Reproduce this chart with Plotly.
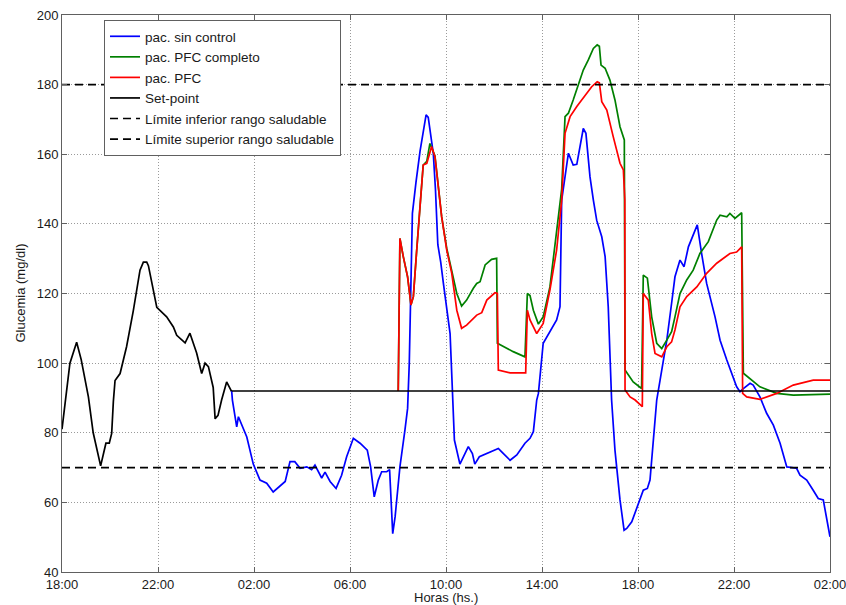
import plotly.graph_objects as go

# Time axis: hours elapsed since 18:00 of the first day
tick_hours = [0, 4, 8, 12, 16, 20, 24, 28, 32]
tick_labels = ["18:00", "22:00", "02:00", "06:00", "10:00", "14:00", "18:00", "22:00", "02:00"]

# Glucose history before control starts
hist_hours = [0, 0.33, 0.61, 0.8, 1.1, 1.3, 1.61, 1.72, 1.83, 1.97, 2.07, 2.14, 2.21, 2.42, 2.69,
              2.97, 3.25, 3.39, 3.53, 3.6, 3.8, 3.95, 4.36, 4.64, 4.78, 5.13, 5.33, 5.61, 5.82,
              5.96, 6.1, 6.3, 6.38, 6.5, 6.65, 6.86, 7.07]
hist_gluc = [81, 100, 106, 101, 90.3, 80, 70.5, 74, 77, 77, 79.8, 89, 95, 97, 104.7,
             115, 126.7, 129, 129, 128, 121, 116, 113.3, 110.4, 108, 105.8, 108.6, 102.9, 97,
             100, 99, 93, 84, 85, 89.4, 94.6, 91.8]

# Uncontrolled patient
blue_hours = [7.07, 7.1, 7.28, 7.35, 7.7, 7.97, 8.25, 8.53, 8.8, 9.05, 9.3, 9.5, 9.7, 9.92,
              10.2, 10.4, 10.54, 10.82, 10.96, 11.17, 11.42, 11.65, 11.86, 12.14, 12.42, 12.72,
              12.86, 13.01, 13.18, 13.32, 13.53, 13.65, 13.78, 13.88, 14.08, 14.29, 14.4, 14.47,
              14.53, 14.6, 14.75, 14.92, 15.17, 15.26, 15.47, 15.56, 15.66, 15.78, 15.89, 16.03,
              16.17, 16.25, 16.3, 16.35, 16.58, 16.93, 17.1, 17.2, 17.39, 17.7, 18.18, 18.32,
              18.67, 18.95, 19.29, 19.5, 19.64, 19.78, 19.85, 20.05, 20.61, 20.75, 20.82, 21.1,
              21.3, 21.45, 21.72, 21.83, 22.0, 22.14, 22.28, 22.49, 22.63, 22.76, 22.9, 23.04,
              23.25, 23.42, 23.53, 23.74, 24.01, 24.22, 24.39, 24.5, 24.64, 24.78, 24.92, 25.2,
              25.4, 25.54, 25.75, 25.92, 26.1, 26.47, 26.65, 26.86, 27.21, 27.42, 27.7, 27.9,
              28.11, 28.25, 28.39, 28.67, 28.8, 29.08, 29.36, 29.64, 29.92, 30.2, 30.61, 30.75,
              31.03, 31.3, 31.51, 31.72, 32.0]
blue_gluc = [92, 89.4, 81.7, 84.6, 78.8, 71, 66.4, 65.5, 63, 64.5, 66, 71.7, 71.7, 69.8,
             70.2, 69.4, 70.7, 67, 68.7, 66, 64, 67.8, 73.1, 78.4, 77, 75,
             70.2, 61.6, 66.4, 68.8, 68.8, 69.4, 51, 55.9, 70.2, 80.8, 87, 100,
             118, 143, 152, 161, 171.3, 170.6, 160.3, 150, 134, 129, 123, 116.2,
             108.5, 95, 85, 77.9, 71, 76, 74, 71, 73.1, 74, 75.5, 74.5,
             72.1, 73.6, 77, 78.4, 80.3, 89.4, 91.3, 105.7, 112.4, 116.2, 146.8, 160.3,
             156.9, 157.1, 167.4, 166, 153.5, 146.8, 141, 136.3, 130.6, 116.2, 89.4, 75,
             60.7, 52, 52.5, 54.4, 59.7, 63.5, 64, 66.4, 77.9, 89.4, 95.1, 106.6,
             117.2, 124.8, 129.6, 127.7, 133.4, 139.7, 131.5, 122.9, 113.3, 106.6, 100.9, 97.1,
             93.2, 91.8, 92.7, 94.2, 93.7, 90.3, 85.6, 82.2, 77, 70.2, 69.8, 67.8,
             66.4, 63.5, 61.1, 60.7, 50.1]

# Patient with full PFC
green_hours = [14.01, 14.08, 14.22, 14.4, 14.54, 14.64, 14.78, 14.92, 15.05, 15.2, 15.33, 15.54,
               15.75, 15.82, 16.03, 16.24, 16.38, 16.45, 16.65, 16.86, 17.14, 17.28, 17.42, 17.63,
               17.9, 18.11, 18.14, 18.8, 19.29, 19.39, 19.5, 19.64, 19.85, 20.05, 20.33, 20.61,
               20.82, 20.96, 21.1, 21.3, 21.51, 21.72, 21.93, 22.14, 22.3, 22.39, 22.46, 22.63,
               22.83, 23.04, 23.25, 23.43, 23.46, 23.8, 24.15, 24.22, 24.39, 24.57, 24.78, 24.99,
               25.2, 25.4, 25.54, 25.75, 26.03, 26.3, 26.58, 26.93, 27.28, 27.42, 27.7, 27.83,
               28.04, 28.32, 28.39, 29.08, 29.78, 30.47, 32.0]
green_gluc = [92, 135.8, 130.6, 124.8, 116.7, 119.1, 132.5, 146.8, 156.9, 158, 163.1, 159.5,
              147, 142, 133, 126.5, 122.9, 120, 116.4, 118.1, 121.5, 122.9, 123.4, 128.2,
              129.8, 130.1, 105.7, 103.3, 101.8, 120, 119.4, 115.2, 111.2, 113.3, 121.9, 137.3,
              150, 170.8, 171.8, 175.6, 179.9, 184.2, 187.1, 190.4, 191.4, 191, 185.6, 184.7,
              181.3, 175.6, 167.9, 164.1, 98, 94.6, 92.7, 125.3, 124.4, 113.3, 105.7, 104.2,
              106.6, 109, 113.3, 120, 123.9, 126.7, 131.5, 134.9, 141.1, 142.5, 142, 143,
              141.6, 143.2, 97.1, 93.2, 91.3, 90.8, 91.1]

# Patient with PFC
red_hours = [14.01, 14.08, 14.22, 14.4, 14.54, 14.64, 14.78, 14.92, 15.05, 15.2, 15.4, 15.54,
             15.75, 15.82, 16.03, 16.24, 16.45, 16.65, 16.86, 17.07, 17.28, 17.49, 17.7, 18.04,
             18.14, 18.18, 18.67, 19.32, 19.39, 19.5, 19.78, 20.05, 20.33, 20.61, 20.82, 20.96,
             21.17, 21.45, 21.79, 22.07, 22.3, 22.39, 22.49, 22.7, 22.97, 23.25, 23.39, 23.45,
             23.46, 23.67, 23.88, 24.18, 24.22, 24.43, 24.57, 24.71, 24.99, 25.2, 25.4, 25.54,
             25.75, 26.03, 26.45, 26.86, 27.28, 27.55, 27.83, 28.11, 28.32, 28.36, 28.53, 29.08,
             29.78, 30.47, 31.3, 32.0]
red_gluc = [92, 135.8, 130.6, 124.8, 116.7, 119.1, 132.5, 146.8, 156.9, 157.4, 162.2, 159.3,
            146.8, 142, 132.5, 125.8, 115.2, 110, 110.9, 112.4, 113.8, 114.5, 118.1, 120.2,
            120, 98, 97.2, 97.2, 115.2, 112.4, 108.5, 111.4, 121, 132.5, 146.8, 166,
            170.8, 173.7, 177, 179.4, 180.8, 180.5, 175.1, 172.7, 165, 157.4, 155.5, 147,
            92.3, 90.3, 89.4, 87.5, 120, 118.1, 108.5, 102.8, 101.8, 104.7, 106.1, 109.5,
            116.2, 119.1, 121.9, 125.8, 128.7, 130.1, 131.5, 131.9, 133.4, 91.3, 90.3, 89.6,
            91.3, 93.7, 95.1, 95.1]

setpoint_hours = [7.07, 32]
setpoint_gluc = [92, 92]
span_hours = [0, 32]
lower_limit = [70, 70]
upper_limit = [180, 180]

FONT = "Liberation Sans, Arial, Helvetica, sans-serif"
LW = 1.7

fig = go.Figure()
fig.add_trace(go.Scatter(x=hist_hours, y=hist_gluc, mode="lines", showlegend=False,
                         line=dict(color="#000000", width=LW)))
fig.add_trace(go.Scatter(x=blue_hours, y=blue_gluc, mode="lines", name="pac. sin control",
                         line=dict(color="#0000ff", width=LW)))
fig.add_trace(go.Scatter(x=green_hours, y=green_gluc, mode="lines", name="pac. PFC completo",
                         line=dict(color="#008000", width=LW)))
fig.add_trace(go.Scatter(x=red_hours, y=red_gluc, mode="lines", name="pac. PFC",
                         line=dict(color="#ff0000", width=LW)))
fig.add_trace(go.Scatter(x=setpoint_hours, y=setpoint_gluc, mode="lines", name="Set-point",
                         line=dict(color="#000000", width=LW)))
fig.add_trace(go.Scatter(x=span_hours, y=lower_limit, mode="lines",
                         name="Límite inferior rango saludable",
                         line=dict(color="#000000", width=LW, dash="8px,5px")))
fig.add_trace(go.Scatter(x=span_hours, y=upper_limit, mode="lines",
                         name="Límite superior rango saludable",
                         line=dict(color="#000000", width=LW, dash="8px,5px")))

axis_common = dict(
    showline=True, linecolor="#606060", linewidth=1, mirror="allticks",
    ticks="inside", ticklen=5, tickcolor="#606060",
    showgrid=True, gridcolor="#9a9a9a", griddash="1px,2px", gridwidth=1,
    zeroline=False, tickfont=dict(family=FONT, size=13, color="#1a1a1a"),
    ticklabeloverflow="allow", automargin=False,
)

fig.update_layout(
    width=846, height=605,
    margin=dict(l=62, r=16, t=15, b=33),
    paper_bgcolor="white", plot_bgcolor="white",
    font=dict(family=FONT, color="#1a1a1a"),
    xaxis=dict(range=[0, 32], tickmode="array", tickvals=tick_hours, ticktext=tick_labels,
               **axis_common),
    yaxis=dict(range=[40, 200], tickmode="linear", tick0=40, dtick=20, **axis_common),
    legend=dict(x=0.0547, y=0.991, xanchor="left", yanchor="top",
                bgcolor="white", bordercolor="#606060", borderwidth=1,
                font=dict(family=FONT, size=13.5, color="#1a1a1a"),
                tracegroupgap=0, itemwidth=30),
    annotations=[
        dict(text="Horas (hs.)", xref="paper", yref="paper", x=0.5, y=0,
             xanchor="center", yanchor="middle", yshift=-25, showarrow=False,
             font=dict(family=FONT, size=13, color="#1a1a1a")),
        dict(text="Glucemia (mg/dl)", xref="paper", yref="paper", x=0, y=0.5,
             xanchor="center", yanchor="middle", xshift=-42, textangle=-90, showarrow=False,
             font=dict(family=FONT, size=13, color="#1a1a1a")),
    ],
)

fig.write_html("out.html")
